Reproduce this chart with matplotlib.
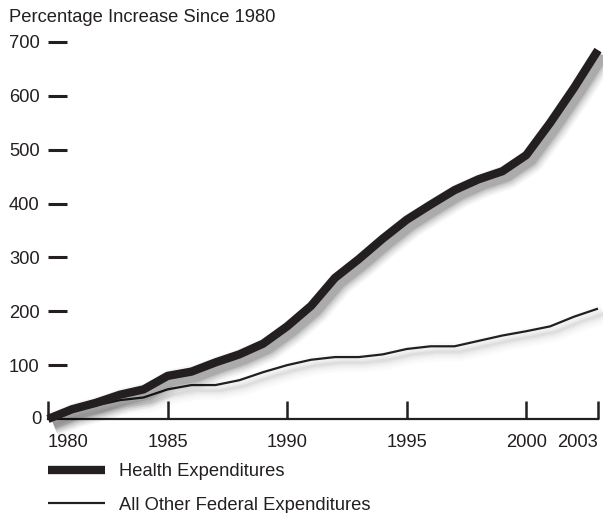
import matplotlib
matplotlib.use("Agg")
import matplotlib.pyplot as plt
import matplotlib.patheffects as pe
from matplotlib.lines import Line2D

plt.rcParams['font.family'] = ['Liberation Sans', 'DejaVu Sans']

years = list(range(1980, 2004))
health = [0, 18, 30, 45, 55, 80, 88, 105, 120, 140, 172, 210, 262, 297, 335, 370,
          398, 425, 445, 460, 490, 550, 615, 685]
other = [0, 15, 25, 35, 40, 55, 63, 63, 72, 87, 100, 110, 115, 115, 120, 130,
         135, 135, 145, 155, 163, 172, 190, 205]
xticks = [1980, 1985, 1990, 1995, 2000, 2003]
yticks = [100, 200, 300, 400, 500, 600, 700]
series_labels = ["Health Expenditures", "All Other Federal Expenditures"]
title = "Percentage Increase Since 1980"

ink = '#231f20'
fs = 13.2
W, H = 603, 513
fig = plt.figure(figsize=(W / 100, H / 100), dpi=100)
ax = fig.add_axes([48 / W, 1 - 419 / H, 550 / W, (419 - 42) / H])


def shadow(width, strength):
    effs = []
    for lw_add, a in [(12, 0.04), (9, 0.05), (6, 0.07), (3, 0.09), (0.5, 0.12)]:
        effs.append(pe.SimpleLineShadow(offset=(4, -4), shadow_color='k',
                                        alpha=a * strength, rho=1.0,
                                        linewidth=width + lw_add))
    effs.append(pe.Normal())
    return effs


l2, = ax.plot(years, other, color=ink, lw=1.6, solid_joinstyle='round',
              solid_capstyle='butt', clip_on=False, zorder=3)
l2.set_path_effects(shadow(1.6, 0.35))
l1, = ax.plot(years, health, color=ink, lw=6.0, solid_joinstyle='round',
              solid_capstyle='butt', clip_on=False, zorder=4)
l1.set_path_effects(shadow(6.0, 1.0))

ax.set_xlim(1980, 2003)
ax.set_ylim(0, 700)
for s in ['top', 'right', 'left']:
    ax.spines[s].set_visible(False)
ax.spines['bottom'].set_linewidth(1.6)
ax.spines['bottom'].set_color(ink)

ax.set_yticks(yticks)
ax.set_yticklabels([str(v) for v in yticks])
ax.tick_params(axis='y', direction='in', length=14, width=2.2, color=ink,
               pad=6, labelsize=fs, labelcolor=ink)
ax.set_xticks(xticks)
ax.set_xticklabels([str(v) for v in xticks])
ax.tick_params(axis='x', direction='in', length=13, width=1.8, color=ink,
               pad=10.5, labelsize=fs, labelcolor=ink)
tl = ax.get_xticklabels()
tl[0].set_ha('left')
tl[-1].set_ha('right')

fig.text(41 / W, 1 - 419 / H, "0", ha='right', va='center', fontsize=fs, color=ink)
fig.text(9 / W, 1 - 18 / H, title, ha='left', va='center', fontsize=fs, color=ink)

handles = [Line2D([], [], color=ink, lw=6.0, solid_capstyle='butt'),
           Line2D([], [], color=ink, lw=1.6, solid_capstyle='butt')]
fig.legend(handles, series_labels, loc='upper left',
           bbox_to_anchor=(48 / W, 1 - 463 / H), frameon=False,
           fontsize=fs, handlelength=3.1, handletextpad=0.75,
           labelspacing=0.9, borderaxespad=0, borderpad=0,
           labelcolor=ink)

fig.savefig('out.png', dpi=100)
